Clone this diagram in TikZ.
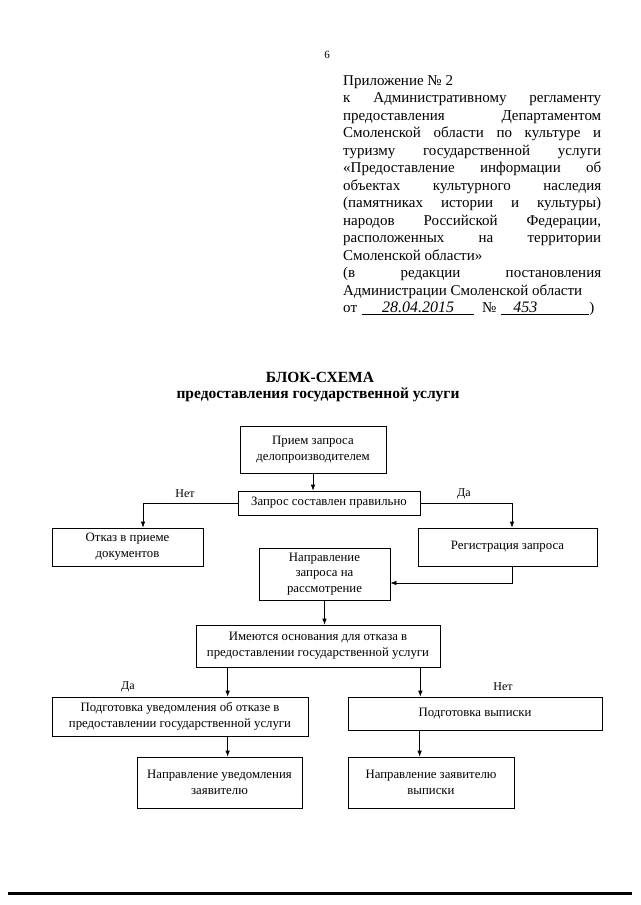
\documentclass[tikz,border=0pt]{standalone}
\usepackage{fontspec}
\setmainfont{Liberation Serif}
\usetikzlibrary{arrows.meta}
\begin{document}
\begin{tikzpicture}[x=1pt,y=-1pt,
  blk/.style={draw, line width=0.7pt, inner sep=0pt, align=center, font=\fontsize{12.8}{15.8}\selectfont},
  conn/.style={line width=0.7pt},
  arr/.style={conn, -{Latex[length=6pt,width=4.5pt]}},
  lbl/.style={font=\fontsize{12}{14}\selectfont, inner sep=0pt},
  ttl/.style={font=\fontsize{15.5}{18}\selectfont\bfseries, inner sep=0pt}]
\useasboundingbox (0,0) rectangle (640,905);
\def\hw{\fontsize{16}{16}\selectfont\itshape}
% page number
\node[font=\fontsize{11}{13}\selectfont, inner sep=0pt] (pnum) at (327,55) {6};
% appendix block
\node[anchor=base west, inner sep=0pt, font=\fontsize{15}{17.5}\selectfont] (app) at (343,85) {\parbox[t]{258pt}{\parindent0pt
Приложение № 2\par
\makebox[258pt][s]{к Административному регламенту}\par
\makebox[258pt][s]{предоставления Департаментом}\par
\makebox[258pt][s]{Смоленской области по культуре и}\par
\makebox[258pt][s]{туризму государственной услуги}\par
\makebox[258pt][s]{«Предоставление информации об}\par
\makebox[258pt][s]{объектах культурного наследия}\par
\makebox[258pt][s]{(памятниках истории и культуры)}\par
\makebox[258pt][s]{народов Российской Федерации,}\par
\makebox[258pt][s]{расположенных на территории}\par
Смоленской области»\par
\makebox[258pt][s]{(в редакции постановления}\par
Администрации Смоленской области\par
от\hspace{5pt}\underline{\makebox[112pt]{\hw 28.04.2015}}\hspace{8pt}№\hspace{5pt}\underline{\makebox[88pt][l]{\hspace{12pt}\hw 453}})\par}};
% title
\node[ttl] (t1) at (320,377) {БЛОК-СХЕМА};
\node[ttl] (t2) at (318,395) {предоставления государственной услуги};
% boxes
\node[blk, minimum width=146pt, minimum height=47pt] (b1) at (313,449.5) {Прием запроса\\делопроизводителем};
\node[blk, minimum width=182pt, minimum height=24pt] (b2) at (329,503) {Запрос составлен правильно};
\node[blk, minimum width=151pt, minimum height=38pt] (b3) at (127.5,547) {Отказ в приеме\\документов};
\node[blk, minimum width=179pt, minimum height=38pt] (b4) at (507.5,547) {Регистрация запроса};
\node[blk, minimum width=131pt, minimum height=52pt] (b5) at (324.5,574) {Направление\\запроса на\\рассмотрение};
\node[blk, minimum width=244pt, minimum height=42pt] (b6) at (318,646) {Имеются основания для отказа в\\предоставлении государственной услуги};
\node[blk, minimum width=256pt, minimum height=39pt] (b7) at (180,716.5) {Подготовка уведомления об отказе в\\предоставлении государственной услуги};
\node[blk, minimum width=254pt, minimum height=33pt] (b8) at (475,713.5) {Подготовка выписки};
\node[blk, minimum width=165pt, minimum height=51pt] (b9) at (219.5,782.5) {Направление уведомления\\заявителю};
\node[blk, minimum width=166pt, minimum height=51pt] (b10) at (431,782.5) {Направление заявителю\\выписки};
% connectors
\draw[arr] (b1.south) -- (b1.south |- b2.north);
\draw[arr] (b2.west) -| ([xshift=15.5pt]b3.north);
\draw[arr] (b2.east) -| ([xshift=4.5pt]b4.north);
\draw[arr] ([xshift=4.5pt]b4.south) |- ([yshift=-9pt]b5.east);
\draw[arr] (b5.south) -- (b5.south |- b6.north);
\draw[arr] ([xshift=32pt]b6.south west) -- ([xshift=32pt]b6.south west |- b7.north);
\draw[arr] ([xshift=-20pt]b6.south east) -- ([xshift=-20pt]b6.south east |- b8.north);
\draw[arr] ([xshift=176pt]b7.south west) -- ([xshift=176pt]b7.south west |- b9.north);
\draw[arr] ([xshift=72pt]b8.south west) -- ([xshift=72pt]b8.south west |- b10.north);
% labels
\node[lbl] (l1) at (185,494) {Нет};
\node[lbl] (l2) at (464,494) {Да};
\node[lbl] (l3) at (128,687) {Да};
\node[lbl] (l4) at (503,687) {Нет};
% bottom rule
\coordinate (rl) at (8,893);
\coordinate (rr) at (632,893);
\draw[line width=3pt] (rl) -- (rr);
\end{tikzpicture}
\end{document}
